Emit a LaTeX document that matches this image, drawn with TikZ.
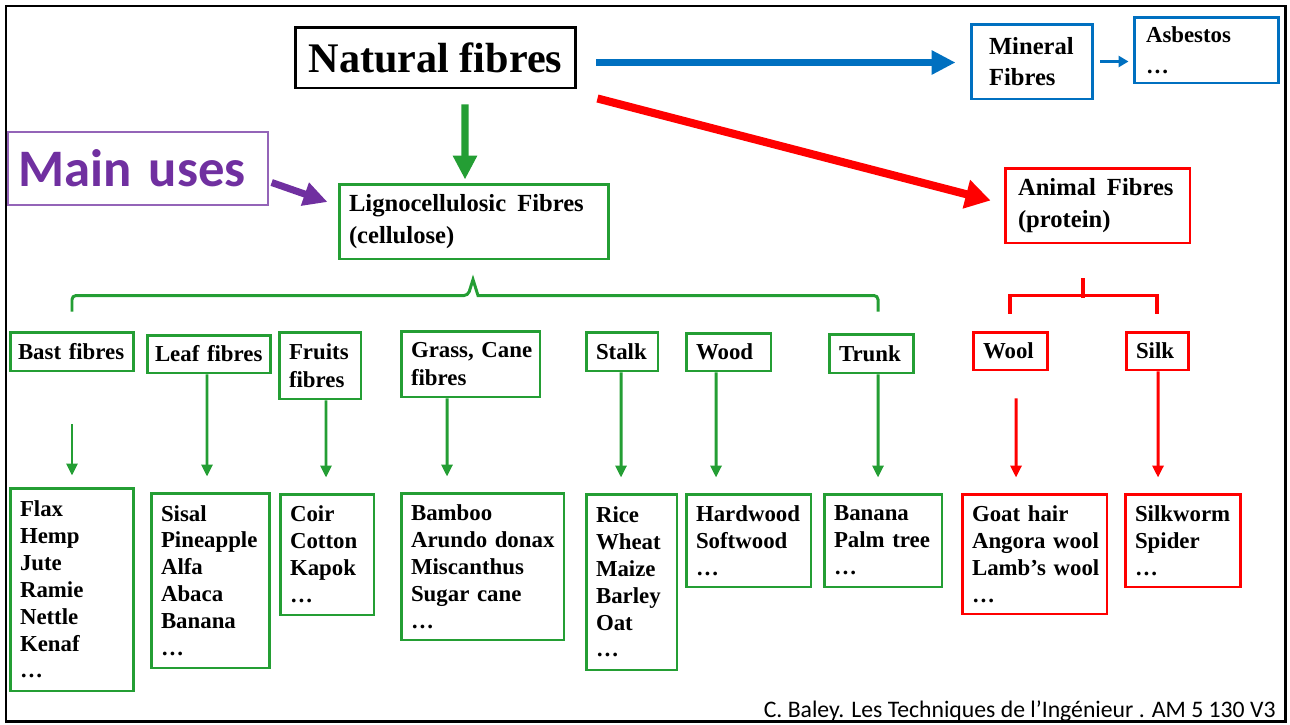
\documentclass[tikz,border=0pt]{standalone}
\usepackage{fontspec}
\setmainfont{Liberation Serif}
\newfontfamily\calibri{Carlito}
\usepackage{xcolor}
\usepackage{tikz}
\usetikzlibrary{arrows.meta}

\definecolor{fgreen}{RGB}{36,158,52}
\definecolor{fblue}{RGB}{0,112,192}
\definecolor{fred}{RGB}{255,0,0}
\definecolor{fpurple}{RGB}{112,48,160}
\hyphenpenalty=10000

\begin{document}
\begin{tikzpicture}[x=0.02cm,y=-0.02cm,
		box/.style={rectangle,draw,line width=1.7pt,inner xsep=0.2cm,inner ysep=0pt,align=left},
		gbox/.style={box,draw=fgreen},
		rbox/.style={box,draw=fred},
		bbox/.style={box,draw=fblue},
		catf/.style={font=\fontsize{14}{17.8}\selectfont\bfseries},
		subf/.style={font=\fontsize{13}{15.9}\selectfont\bfseries},
		itemf/.style={font=\fontsize{13}{15.3}\selectfont\bfseries},
		bigarrow/.style={line width=4pt,-{Triangle[length=0.48cm,width=0.46cm]}},
		garrow/.style={fgreen,line width=1.7pt,-{Triangle[length=0.24cm,width=0.22cm]},shorten >=0.3cm},
		rarrow/.style={fred,line width=1.7pt,-{Triangle[length=0.24cm,width=0.22cm]},shorten >=0.3cm}]
	\useasboundingbox (0,0) rectangle (1290,724);
	
	% top level
	\node[box,align=center,minimum width=5.62cm,minimum height=1.22cm,font=\fontsize{24}{28}\selectfont\bfseries] (natural) at (435.5,57.5) {Natural fibres};
	\node[bbox,catf,inner xsep=0.36cm,text width=1.7cm,minimum height=1.5cm] (mineral) at (1031.5,61.5) {Mineral\\Fibres};
	\node[bbox,font=\fontsize{13}{17.6}\selectfont\bfseries,inner xsep=0.24cm,text width=2.4cm,minimum height=1.32cm] (asbestos) at (1206,50) {Asbestos\\…};
	\node[rbox,catf,inner xsep=0.26cm,text width=3.18cm,minimum height=1.5cm] (animal) at (1097.5,205.5) {Animal\hspace{0.45em}Fibres\\(protein)};
	\node[gbox,catf,text width=5cm,minimum height=1.5cm] (ligno) at (474,221.5) {Lignocellulosic\hspace{0.45em}Fibres\\(cellulose)};
	\node[box,draw=fpurple!75,line width=0.8pt,text width=4.8cm,minimum height=1.46cm,text=fpurple,font=\calibri\fontsize{30}{36}\selectfont\bfseries] (uses) at (138,168.5) {Main uses};
	
	\draw[bigarrow,fblue,shorten <=0.38cm,shorten >=0.28cm] ([yshift=-0.1cm]natural.east) -- ([yshift=-0.1cm]natural.east -| mineral.west);
	\draw[fblue,line width=1.5pt,-{Triangle[length=0.2cm,width=0.22cm]},shorten <=0.14cm,shorten >=0.08cm] (mineral.east) -- (mineral.east -| asbestos.west);
	\draw[bigarrow,fred,line width=4.6pt,-{Triangle[length=0.5cm,width=0.56cm]}] ([xshift=0.4cm,yshift=-0.18cm]natural.south east) -- ([xshift=-0.26cm,yshift=0.1cm]animal.west);
	\draw[bigarrow,fgreen] ([xshift=0.59cm,yshift=-0.3cm]natural.south) -- ([xshift=-0.18cm,yshift=0.06cm]ligno.north);
	\draw[bigarrow,fpurple] ([xshift=0.06cm,yshift=-0.28cm]uses.east) -- ([xshift=-0.2cm,yshift=0.39cm]ligno.west);
	
	% families
	\node[gbox,subf,inner xsep=0.16cm,text width=2.16cm,minimum height=0.78cm] (bast) at (72,351.5) {Bast~fibres};
	\node[gbox,subf,inner xsep=0.16cm,text width=2.16cm,minimum height=0.76cm] (leaf) at (209,354) {Leaf~fibres};
	\node[gbox,subf,text width=1.24cm,minimum height=1.34cm] (fruits) at (320,365.5) {Fruits\\fibres};
	\node[gbox,subf,text width=2.38cm,minimum height=1.32cm] (grass) at (470.5,364) {Grass,~Cane\\fibres};
	\node[gbox,subf,text width=1.04cm,minimum height=0.78cm] (stalk) at (622,351.5) {Stalk};
	\node[gbox,subf,text width=1.3cm,minimum height=0.76cm] (wood) at (728.5,352) {Wood};
	\node[gbox,subf,text width=1.28cm,minimum height=0.78cm] (trunk) at (871,353.5) {Trunk};
	\node[rbox,subf,text width=1.08cm,minimum height=0.76cm] (wool) at (1010,351) {Wool};
	\node[rbox,subf,text width=0.84cm,minimum height=0.76cm] (silk) at (1157,351) {Silk};
	
	\draw[fgreen,line width=1.7pt] ([yshift=0.38cm]bast.north) [rounded corners=0.08cm] -- ++(0,-16) -- ++(396,0) [sharp corners] -- ++(5,-16) -- ++(5,16) [rounded corners=0.08cm] -- ++(400,0) -- ++(0,16);
	\draw[fred,line width=2.2pt] ([yshift=0.34cm]wool.north) -- ++(0,-18) -| ([yshift=0.34cm]silk.north);
	\draw[fred,line width=2.2pt] ([xshift=-0.29cm,yshift=-0.68cm]animal.south) -- ++(0,20);
	
	% examples
	\node[gbox,itemf,text width=2.08cm,minimum height=4.06cm] (flax) at (72,589.5) {Flax\\Hemp\\Jute\\Ramie\\Nettle\\Kenaf\\…};
	\node[gbox,itemf,text width=1.98cm,minimum height=3.5cm] (sisal) at (210.5,580.5) {Sisal\\Pineapple\\Alfa\\Abaca\\Banana\\…};
	\node[gbox,itemf,text width=1.48cm,minimum height=2.42cm] (coir) at (327,554.5) {Coir\\Cotton\\Kapok\\…};
	\node[gbox,itemf,text width=2.86cm,minimum height=2.94cm] (bamboo) at (482.5,566.5) {Bamboo\\Arundo~donax\\Miscanthus\\Sugar~cane\\…};
	\node[gbox,itemf,text width=1.42cm,minimum height=3.52cm] (rice) at (631.5,582) {Rice\\Wheat\\Maize\\Barley\\Oat\\…};
	\node[gbox,itemf,text width=2.1cm,minimum height=1.86cm] (hard) at (748.5,540.5) {Hardwood\\Softwood\\…};
	\node[gbox,itemf,text width=1.96cm,minimum height=1.86cm] (banana) at (883,540.5) {Banana\\Palm~tree\\…};
	\node[rbox,itemf,text width=2.5cm,minimum height=2.4cm] (goat) at (1034.5,554) {Goat~hair\\Angora~wool\\Lamb’s~wool\\…};
	\node[rbox,itemf,text width=1.9cm,minimum height=1.86cm] (silkworm) at (1182.5,540.5) {Silkworm\\Spider\\…};
	
	\coordinate (bastfree) at ([yshift=-1.04cm]bast.south);
	\coordinate (woolfree) at ([xshift=0.12cm,yshift=-0.54cm]wool.south);
	\draw[garrow,shorten >=0.22cm] (bastfree) -- (flax.north);
	\draw[garrow] ([xshift=-0.04cm]leaf.south) -- ([xshift=-0.07cm]sisal.north);
	\draw[garrow] ([xshift=0.12cm]fruits.south) -- ([xshift=-0.02cm]coir.north);
	\draw[garrow] ([xshift=-0.47cm]grass.south) -- ([xshift=-0.71cm]bamboo.north);
	\draw[garrow] ([xshift=-0.02cm]stalk.south) -- ([xshift=-0.21cm]rice.north);
	\draw[garrow] ([xshift=-0.25cm]wood.south) -- ([xshift=-0.65cm]hard.north);
	\draw[garrow] ([xshift=0.14cm]trunk.south) -- ([xshift=-0.1cm]banana.north);
	\draw[rarrow] (woolfree) -- ([xshift=-0.37cm]goat.north);
	\draw[rarrow] ([xshift=0.02cm]silk.south) -- ([xshift=-0.49cm]silkworm.north);
	
	\node[anchor=base east,inner sep=0pt,font=\calibri\fontsize{13.5}{16}\selectfont] (source) at (1276,717) {C. Baley. Les Techniques de l’Ingénieur . AM 5 130 V3};
	\draw[line width=1.7pt] (6,6) rectangle (1285,721);
\end{tikzpicture}
\end{document}
